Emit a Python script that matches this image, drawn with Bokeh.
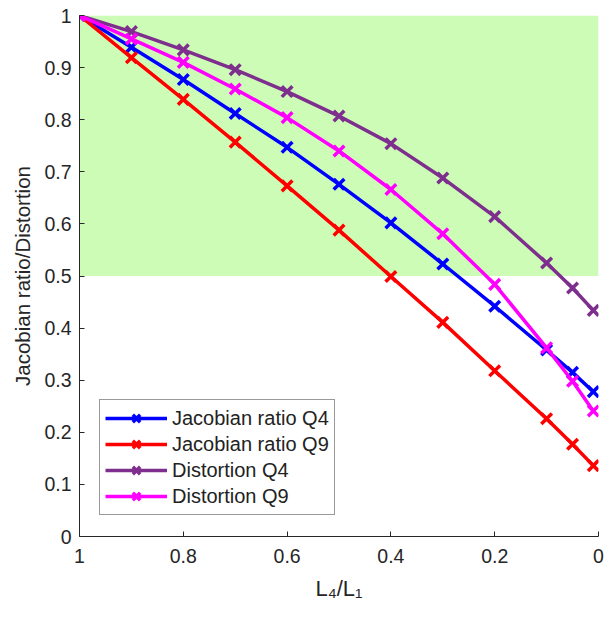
from bokeh.plotting import figure
from bokeh.models import Range1d, BoxAnnotation, FixedTicker, Legend, LegendItem
from bokeh.embed import file_html
from bokeh.resources import INLINE

x = [1, 0.9, 0.8, 0.7, 0.6, 0.5, 0.4, 0.3, 0.2, 0.1, 0.05, 0.01]
jac_q4 = [1, 0.939, 0.877, 0.812, 0.747, 0.676, 0.602, 0.523, 0.442, 0.358, 0.315, 0.278]
jac_q9 = [1, 0.919, 0.839, 0.757, 0.673, 0.588, 0.499, 0.411, 0.318, 0.226, 0.177, 0.136]
dist_q4 = [1, 0.969, 0.934, 0.896, 0.854, 0.807, 0.754, 0.688, 0.614, 0.525, 0.477, 0.434]
dist_q9 = [1, 0.955, 0.910, 0.859, 0.804, 0.740, 0.666, 0.581, 0.484, 0.362, 0.298, 0.241]

names = ["Jacobian ratio Q4", "Jacobian ratio Q9", "Distortion Q4", "Distortion Q9"]
series = [jac_q4, jac_q9, dist_q4, dist_q9]
colors = ["#0000FF", "#FF0000", "#7E2F8E", "#FF00FF"]

xticks = [0, 0.2, 0.4, 0.6, 0.8, 1]
yticks = [0, 0.1, 0.2, 0.3, 0.4, 0.5, 0.6, 0.7, 0.8, 0.9, 1]

FONT = "Liberation Sans"
TXT = "#262626"

p = figure(width=604, height=608, output_backend="svg", toolbar_location=None,
           x_range=Range1d(1, 0), y_range=Range1d(0, 1),
           min_border_left=79, min_border_right=6, min_border_top=15, min_border_bottom=72)
p.outline_line_color = None
p.xgrid.visible = False
p.ygrid.visible = False

p.add_layout(BoxAnnotation(bottom=0.5, top=1, fill_color="#CCFCB5", fill_alpha=1,
                           line_alpha=0, level="underlay"))

items = []
for name, ys, c in zip(names, series, colors):
    r1 = p.line(x, ys, line_color=c, line_width=3.5)
    r2 = p.scatter(x, ys, marker="x", size=15, line_color=c, line_width=3.5)
    items.append(LegendItem(label=name, renderers=[r1, r2]))

leg = Legend(items=items, location=(20, 21), label_text_font=FONT,
             label_text_font_size="20px", label_text_color="#222222",
             border_line_color="#333333", border_line_width=1,
             background_fill_alpha=1, glyph_width=62, glyph_height=26,
             label_height=20, spacing=-1, padding=5, margin=0, label_standoff=5)
p.add_layout(leg, "center")

for ax in (p.xaxis[0], p.yaxis[0]):
    ax.major_label_text_font = FONT
    ax.major_label_text_font_size = "19.5px"
    ax.major_label_text_color = TXT
    ax.axis_label_text_font = FONT
    ax.axis_label_text_font_size = "20.5px"
    ax.axis_label_text_font_style = "normal"
    ax.axis_label_text_color = TXT
    ax.axis_line_color = TXT
    ax.major_tick_line_color = TXT
    ax.major_tick_in = 5
    ax.major_tick_out = 0
    ax.minor_tick_line_color = None

p.xaxis.ticker = FixedTicker(ticks=xticks)
p.yaxis.ticker = FixedTicker(ticks=yticks)
p.xaxis.major_label_overrides = {t: ("%g" % t) for t in xticks}
p.yaxis.major_label_overrides = {t: ("%g" % t) for t in yticks}
p.xaxis.axis_label = "L\u2084/L\u2081"
p.xaxis.axis_label_text_font_size = "22px"
p.yaxis.axis_label = "Jacobian ratio/Distortion"
p.xaxis.major_label_standoff = 12
p.yaxis.major_label_standoff = 8
p.xaxis.axis_label_standoff = 10
p.yaxis.axis_label_standoff = 7

open("out.html", "w").write(file_html(p, INLINE))
